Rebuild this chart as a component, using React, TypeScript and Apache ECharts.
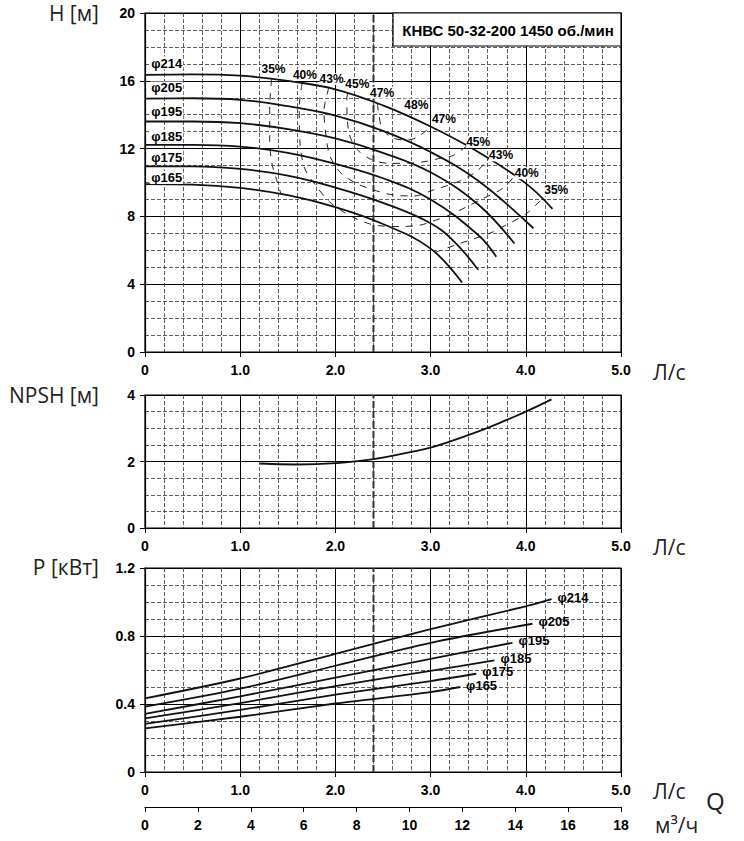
import React, { useEffect, useRef } from 'react';
import * as echarts from 'echarts';

// ---------- DATA ----------
const diameterNames = ['φ214', 'φ205', 'φ195', 'φ185', 'φ175', 'φ165'];

// Head curves H(Q): [Q л/с, H м]
const head214 = [[0, 16.35], [0.5, 16.38], [1, 16.3], [1.5, 16.0], [2, 15.5], [2.5, 14.55], [3, 13.3], [3.5, 11.8], [4, 9.95], [4.28, 8.45]];
const head205 = [[0, 14.95], [0.5, 14.97], [1, 14.88], [1.5, 14.5], [2, 13.95], [2.5, 13.05], [3, 11.8], [3.5, 10.1], [4.08, 7.3]];
const head195 = [[0, 13.6], [0.5, 13.6], [1, 13.5], [1.5, 13.15], [2, 12.6], [2.5, 11.75], [3, 10.6], [3.5, 8.7], [3.88, 6.4]];
const head185 = [[0, 12.22], [0.5, 12.22], [1, 12.12], [1.5, 11.75], [2, 11.1], [2.5, 10.25], [3, 9.0], [3.5, 6.9], [3.69, 5.62]];
const head175 = [[0, 10.95], [0.5, 10.95], [1, 10.8], [1.5, 10.4], [2, 9.7], [2.5, 8.8], [3, 7.6], [3.25, 6.5], [3.5, 4.85]];
const head165 = [[0, 9.9], [0.5, 9.87], [1, 9.68], [1.5, 9.25], [2, 8.55], [2.5, 7.55], [3, 6.1], [3.33, 4.1]];

// Iso-efficiency contours
const eff35a = [[1.33, 16.1], [1.31, 14.5], [1.31, 12.5], [1.33, 11.2], [1.38, 10.2], [1.43, 9.3]];
const eff35b = [[3.04, 5.86], [3.31, 6.41], [3.62, 7.0], [3.76, 7.39], [4.01, 8.18], [4.17, 9.04]];
const eff40 = [[1.65, 15.85], [1.62, 14.4], [1.63, 12.2], [1.68, 10.8], [1.79, 9.85], [1.94, 8.85], [2.15, 8.05], [2.4, 7.5], [2.7, 7.4], [2.9, 7.5], [3.01, 7.69], [3.2, 8.08], [3.38, 8.57], [3.52, 8.97], [3.76, 9.66], [3.88, 10.38]];
const eff43 = [[1.93, 15.57], [1.88, 14.2], [1.9, 12.8], [1.94, 11.6], [2.05, 10.6], [2.22, 9.95], [2.4, 9.56], [2.61, 9.26], [2.82, 9.2], [3.03, 9.56], [3.29, 10.05], [3.48, 10.64], [3.61, 11.39]];
const eff45 = [[2.13, 15.25], [2.12, 14.96], [2.14, 13.0], [2.22, 12.0], [2.38, 11.35], [2.57, 11.13], [2.8, 11.15], [2.96, 11.25], [3.1, 11.43], [3.24, 11.6], [3.38, 12.16]];
const eff47 = [[2.44, 14.66], [2.46, 13.9], [2.49, 13.2], [2.59, 12.65], [2.75, 12.5], [2.87, 12.7], [3.0, 13.3]];

const effLabelText = ['35%', '40%', '43%', '45%', '47%', '48%', '47%', '45%', '43%', '40%', '35%'];
const effLabelQ = [1.35, 1.68, 1.96, 2.23, 2.49, 2.85, 3.14, 3.5, 3.74, 4.01, 4.32];
const effLabelH = [16.7, 16.35, 16.1, 15.8, 15.3, 14.6, 13.75, 12.4, 11.6, 10.55, 9.55];

const phiLabelQ = 0.05;
const phiLabelH = [17.05, 15.58, 14.16, 12.74, 11.5, 10.3];

// NPSH
const npshCurve = [[1.21, 1.94], [1.6, 1.91], [2.0, 1.95], [2.4, 2.07], [2.8, 2.29], [3.0, 2.42], [3.2, 2.6], [3.4, 2.8], [3.6, 3.01], [3.8, 3.25], [4.0, 3.5], [4.27, 3.87]];

// Power P(Q), кВт
const power214 = [[0, 0.433], [1, 0.55], [2, 0.695], [3, 0.84], [4, 0.975], [4.27, 1.017]];
const power205 = [[0, 0.384], [1, 0.49], [2, 0.625], [3, 0.76], [4.07, 0.872]];
const power195 = [[0, 0.342], [1, 0.445], [2, 0.555], [3, 0.665], [3.86, 0.76]];
const power185 = [[0, 0.315], [1, 0.405], [2, 0.505], [3, 0.595], [3.67, 0.657]];
const power175 = [[0, 0.283], [1, 0.365], [2, 0.455], [3, 0.535], [3.48, 0.578]];
const power165 = [[0, 0.256], [1, 0.325], [2, 0.403], [3, 0.47], [3.31, 0.5]];

const nominalQ = 2.4;
const qTicksLs = { min: 0, max: 5, interval: 1 };
const qTicksM3h = { min: 0, max: 18, interval: 2 };
const headAxis = { min: 0, max: 20, interval: 4 };
const npshAxis = { min: 0, max: 4, interval: 2 };
const powerAxis = { min: 0, max: 1.2, interval: 0.4 };

const titleText = 'КНВС 50-32-200 1450 об./мин';

// ---------- STYLE ----------
const BOLD_FONT = "'Liberation Sans', Arial, sans-serif";
const NAME_FONT = "'Open Sans', 'Noto Sans', sans-serif";

export default function App() {
  const ref = useRef<HTMLDivElement>(null);

  useEffect(() => {
    if (!ref.current) return;
    const chart = echarts.init(ref.current, undefined, { renderer: 'svg' });

    const heads = [head214, head205, head195, head185, head175, head165];
    const powers = [power214, power205, power195, power185, power175, power165];
    const effs = [eff35a, eff35b, eff40, eff43, eff45, eff47];

    const fmt1 = (v: number) => (v === 0 ? '0' : v.toFixed(1));

    const mkX = (gridIndex: number) => ({
      type: 'value',
      gridIndex,
      min: qTicksLs.min,
      max: qTicksLs.max,
      interval: qTicksLs.interval,
      axisLine: { show: true, onZero: false, lineStyle: { color: '#000', width: 1.2 } },
      axisTick: { show: true, length: 5, lineStyle: { color: '#000' } },
      axisLabel: { formatter: fmt1, color: '#000', fontFamily: BOLD_FONT, fontWeight: 'bold', fontSize: 14, margin: 11 },
      splitLine: { show: true, lineStyle: { color: '#000', width: 1 } },
      minorTick: { show: false, splitNumber: 5 },
      minorSplitLine: { show: true, lineStyle: { color: '#333', width: 0.8, type: [4, 2] } },
    });

    const mkY = (gridIndex: number, ax: { min: number; max: number; interval: number }, formatter?: (v: number) => string) => ({
      type: 'value',
      gridIndex,
      min: ax.min,
      max: ax.max,
      interval: ax.interval,
      axisLine: { show: true, onZero: false, lineStyle: { color: '#000', width: 1.2 } },
      axisTick: { show: true, length: 5, lineStyle: { color: '#000' } },
      axisLabel: { formatter, color: '#000', fontFamily: BOLD_FONT, fontWeight: 'bold', fontSize: 14, margin: 10 },
      splitLine: { show: true, lineStyle: { color: '#000', width: 1 } },
      minorTick: { show: false, splitNumber: 4 },
      minorSplitLine: { show: true, lineStyle: { color: '#333', width: 0.8, type: [4, 2] } },
    });

    const series: any[] = [];

    heads.forEach((d) => {
      series.push({
        type: 'line', xAxisIndex: 0, yAxisIndex: 0, data: d, smooth: 0.4,
        symbol: 'none', lineStyle: { color: '#111', width: 1.8 }, z: 5,
      });
    });

    effs.forEach((d) => {
      series.push({
        type: 'line', xAxisIndex: 0, yAxisIndex: 0, data: d, smooth: 0.3,
        symbol: 'none', lineStyle: { color: '#222', width: 1, type: [7, 7] }, z: 4,
      });
    });

    const labelBase = {
      show: true, color: '#000', opacity: 1, fontFamily: BOLD_FONT, fontWeight: 'bold',
      textBorderWidth: 0, backgroundColor: '#fff',
    };

    series.push({
      type: 'scatter', xAxisIndex: 0, yAxisIndex: 0, symbolSize: 1, z: 8, silent: true,
      itemStyle: { color: 'rgba(0,0,0,0)', opacity: 1 },
      data: effLabelText.map((t, i) => ({ name: t, value: [effLabelQ[i], effLabelH[i]] })),
      label: { ...labelBase, position: 'inside', formatter: '{b}', fontSize: 12, padding: [0, 0] },
    });

    series.push({
      type: 'scatter', xAxisIndex: 0, yAxisIndex: 0, symbolSize: 1, z: 8, silent: true,
      itemStyle: { color: 'rgba(0,0,0,0)', opacity: 1 },
      data: diameterNames.map((t, i) => ({ name: t, value: [phiLabelQ, phiLabelH[i]] })),
      label: { ...labelBase, position: 'right', distance: 0, formatter: '{b}', fontSize: 13, padding: [0, 1] },
    });

    // nominal duty flow line in each panel
    const axMaxes = [headAxis.max, npshAxis.max, powerAxis.max];
    axMaxes.forEach((mx, gi) => {
      series.push({
        type: 'line', xAxisIndex: gi, yAxisIndex: gi, data: [[nominalQ, 0], [nominalQ, mx]],
        symbol: 'none', lineStyle: { color: '#333', width: 2, type: [7, 3] }, z: 3,
      });
    });

    series.push({
      type: 'line', xAxisIndex: 1, yAxisIndex: 1, data: npshCurve, smooth: 0.5,
      symbol: 'none', lineStyle: { color: '#111', width: 1.8 }, z: 5,
    });

    powers.forEach((d, i) => {
      series.push({
        type: 'line', xAxisIndex: 2, yAxisIndex: 2, data: d, smooth: 0.3,
        symbol: 'none', lineStyle: { color: '#111', width: 1.8 }, z: 5,
        endLabel: {
          show: true, formatter: diameterNames[i], distance: 6, offset: [0, -2],
          color: '#000', fontFamily: BOLD_FONT, fontWeight: 'bold', fontSize: 13,
        },
      });
    });

    // empty series on the m3/h axis so it is laid out
    series.push({
      type: 'line', xAxisIndex: 3, yAxisIndex: 3, data: [], symbol: 'none',
    });

    const nameStyle = { fill: '#222', font: `21px ${NAME_FONT}` };

    const option: any = {
      animation: false,
      backgroundColor: '#fff',
      grid: [
        { left: 145, top: 13, width: 476, height: 339, show: true, borderColor: '#000', borderWidth: 1.2 },
        { left: 145, top: 395, width: 476, height: 133, show: true, borderColor: '#000', borderWidth: 1.2 },
        { left: 145, top: 568, width: 476, height: 204, show: true, borderColor: '#000', borderWidth: 1.2 },
        { left: 145, top: 800, width: 476, height: 7, show: false },
      ],
      xAxis: [
        mkX(0), mkX(1), mkX(2),
        {
          type: 'value', gridIndex: 3, min: qTicksM3h.min, max: qTicksM3h.max, interval: qTicksM3h.interval,
          axisLine: { show: true, onZero: false, lineStyle: { color: '#000', width: 1.2 } },
          axisTick: { show: true, length: 5, lineStyle: { color: '#000' } },
          axisLabel: { color: '#000', fontFamily: BOLD_FONT, fontWeight: 'bold', fontSize: 14, margin: 11 },
          splitLine: { show: false },
        },
      ],
      yAxis: [
        mkY(0, headAxis),
        mkY(1, npshAxis),
        mkY(2, powerAxis, fmt1),
        { type: 'value', gridIndex: 3, show: false, min: 0, max: 1 },
      ],
      series,
      graphic: [
        { type: 'rect', z: 100, shape: { x: 393, y: 13, width: 228, height: 33 }, style: { fill: '#fff', stroke: '#000', lineWidth: 1.2 } },
        { type: 'text', z: 101, x: 508, y: 30, style: { text: titleText, fill: '#000', font: `bold 15px ${BOLD_FONT}`, align: 'center', verticalAlign: 'middle' } },
        { type: 'text', z: 101, x: 99, y: 13, style: { ...nameStyle, text: 'H [м]', align: 'right', verticalAlign: 'middle' } },
        { type: 'text', z: 101, x: 99, y: 395, style: { ...nameStyle, text: 'NPSH [м]', align: 'right', verticalAlign: 'middle' } },
        { type: 'text', z: 101, x: 99, y: 567, style: { ...nameStyle, text: 'P [кВт]', align: 'right', verticalAlign: 'middle' } },
        { type: 'text', z: 101, x: 653, y: 372, style: { ...nameStyle, text: 'Л/с', align: 'left', verticalAlign: 'middle' } },
        { type: 'text', z: 101, x: 653, y: 547, style: { ...nameStyle, text: 'Л/с', align: 'left', verticalAlign: 'middle' } },
        { type: 'text', z: 101, x: 653, y: 791, style: { ...nameStyle, text: 'Л/с', align: 'left', verticalAlign: 'middle' } },
        { type: 'text', z: 101, x: 706, y: 800, style: { fill: '#222', font: `24px ${NAME_FONT}`, text: 'Q', align: 'left', verticalAlign: 'middle' } },
        { type: 'text', z: 101, x: 655, y: 825, style: { ...nameStyle, text: 'м³/ч', align: 'left', verticalAlign: 'middle' } },
      ],
    };

    chart.setOption(option);
    return () => chart.dispose();
  }, []);

  return (
    <div
      ref={ref}
      style={{ position: 'fixed', left: 0, top: 0, width: 744, height: 841, background: '#fff' }}
    />
  );
}
